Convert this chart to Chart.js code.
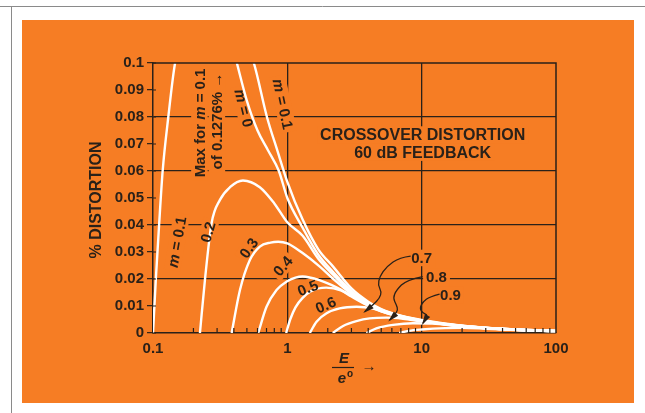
<!DOCTYPE html>
<html>
<head>
<meta charset="utf-8">
<script src="https://cdn.jsdelivr.net/npm/chart.js@4.4.1/dist/chart.umd.min.js"></script>
<style>
html, body { margin: 0; padding: 0; background: #fff; }
#wrap { width: 645px; height: 413px; }
</style>
</head>
<body>
<div id="wrap"><canvas id="chart" width="645" height="413"></canvas></div>
<script>
// 曲线数据 (x = E/e°, y = % distortion)
const m00X = [0.38, 0.421, 0.5, 0.6, 0.716, 0.865, 1.0, 1.3, 1.7, 2.2, 3, 4, 5, 7, 10, 20, 50, 100];
const m00Y = [0.1085, 0.1, 0.086, 0.075, 0.0678, 0.060, 0.050, 0.039, 0.029, 0.0225, 0.0155, 0.0112, 0.0087, 0.0063, 0.0047, 0.0027, 0.0013, 0.0008];

const m01X = [0.1, 0.105, 0.111, 0.118, 0.13, 0.146, 0.2, 0.28, 0.4, 0.563, 0.705, 0.85, 1.0, 1.3, 1.7, 2.2, 3, 4, 5, 7, 10, 20, 50, 100];
const m01Y = [0, 0.02, 0.04, 0.06, 0.08, 0.1, 0.121, 0.1276, 0.118, 0.1, 0.08, 0.067, 0.056, 0.042, 0.031, 0.0245, 0.0165, 0.0116, 0.0089, 0.0064, 0.0048, 0.0027, 0.0013, 0.0008];

const m02X = [0.2236, 0.2435, 0.273, 0.315, 0.374, 0.467, 0.624, 0.8, 1.0, 1.3, 1.7, 2.2, 3, 4, 5, 7, 10, 20, 50, 100];
const m02Y = [0, 0.0196, 0.0407, 0.0493, 0.054, 0.0565, 0.054, 0.048, 0.041, 0.036, 0.0275, 0.0215, 0.0150, 0.0109, 0.0085, 0.0062, 0.0046, 0.0026, 0.0013, 0.0008];

const m03X = [0.385, 0.444, 0.526, 0.624, 0.75, 0.855, 1.0, 1.3, 1.745, 2.2, 3, 4, 5, 7, 10, 20, 50, 100];
const m03Y = [0, 0.0159, 0.027, 0.032, 0.0335, 0.0338, 0.0332, 0.0296, 0.0246, 0.020, 0.0145, 0.0107, 0.0084, 0.0061, 0.0046, 0.0026, 0.0013, 0.0008];

const m04X = [0.607, 0.70, 0.831, 0.99, 1.15, 1.3, 1.75, 2.3, 3, 4, 5, 7, 10, 20, 50, 100];
const m04Y = [0, 0.0097, 0.0159, 0.0191, 0.0205, 0.0209, 0.0195, 0.017, 0.0138, 0.0103, 0.0082, 0.006, 0.0045, 0.0026, 0.0012, 0.0007];

const m05X = [0.98, 1.05, 1.15, 1.3, 1.5, 1.95, 2.5, 3, 4, 5, 7, 10, 20, 50, 100];
const m05Y = [0, 0.005, 0.0095, 0.013, 0.0155, 0.0168, 0.0158, 0.0135, 0.0101, 0.008, 0.0059, 0.0045, 0.0025, 0.0012, 0.0007];

const m06X = [1.47, 1.65, 1.96, 2.45, 3.27, 4.35, 5.5, 7, 10, 20, 50, 100];
const m06Y = [0, 0.0042, 0.0073, 0.0091, 0.0097, 0.0090, 0.0074, 0.0059, 0.0044, 0.0025, 0.0012, 0.0007];

const m07X = [2.18, 2.6, 3.27, 4.1, 5.47, 7.26, 10, 20, 50, 100];
const m07Y = [0, 0.0026, 0.0044, 0.0054, 0.0057, 0.0053, 0.0043, 0.0025, 0.0012, 0.0007];

const m08X = [3.88, 4.6, 6.12, 8.6, 12, 20, 50, 100];
const m08Y = [0, 0.0017, 0.003, 0.0036, 0.0035, 0.0024, 0.0012, 0.0007];

const m09X = [6.8, 8, 10, 15, 20, 30, 50, 100];
const m09Y = [0, 0.0008, 0.0013, 0.0018, 0.0019, 0.0016, 0.0011, 0.0007];

// 刻度
const xMajorTicks = [0.1, 1, 10, 100];
const xTickLabels = ['0.1', '1', '10', '100'];
const xGridValues = [1, 10];
const yTickValues = [0, 0.01, 0.02, 0.03, 0.04, 0.05, 0.06, 0.07, 0.08, 0.09, 0.1];
const yTickLabels = ['0', '0.01', '0.02', '0.03', '0.04', '0.05', '0.06', '0.07', '0.08', '0.09', '0.1'];
const yGridValues = [0.02, 0.04, 0.06, 0.08];

// 引出线 (0.7 / 0.8 / 0.9)
const lead07X = [8.28, 6.86, 5.47, 4.87, 4.73, 5.02, 4.87, 4.35, 3.77];
const lead07Y = [0.0285, 0.0280, 0.0246, 0.0209, 0.0178, 0.0153, 0.0129, 0.0104, 0.0079];
const lead08X = [10.17, 7.69, 6.49, 6.12, 6.49, 6.66, 6.30, 5.78];
const lead08Y = [0.0209, 0.0196, 0.0159, 0.0130, 0.0104, 0.0085, 0.0067, 0.0048];
const lead09X = [13.6, 11.47, 10.22, 9.66, 10.22, 11.14, 10.22];
const lead09Y = [0.0144, 0.0134, 0.0116, 0.0091, 0.0073, 0.0067, 0.0036];

// 图中文字
const curveLabels = [
    { parts: [['m', 'bi'], [' = 0.1', 'b']], x: 0.1508, y: 0.0337, rot: -80 },
    { parts: [['0.2', 'b']], x: 0.2565, y: 0.0374, rot: -74 },
    { parts: [['0.3', 'b']], x: 0.517, y: 0.0315, rot: -55 },
    { parts: [['0.4', 'b']], x: 0.926, y: 0.0248, rot: -50 },
    { parts: [['0.5', 'b']], x: 1.42, y: 0.0167, rot: -22 },
    { parts: [['0.6', 'b']], x: 1.93, y: 0.0104, rot: -24 },
    { parts: [['0.7', 'b']], x: 10.0, y: 0.0278, rot: 0 },
    { parts: [['0.8', 'b']], x: 12.9, y: 0.0207, rot: 0 },
    { parts: [['0.9', 'b']], x: 16.4, y: 0.0141, rot: 0 },
    { parts: [['m', 'bi'], [' = 0', 'b']], x: 0.475, y: 0.0833, rot: 76 },
    { parts: [['m', 'bi'], [' = 0.1', 'b']], x: 0.926, y: 0.0848, rot: 78 },
    { parts: [['Max for ', 'b'], ['m', 'bi'], [' = 0.1', 'b']], x: 0.2216, y: 0.0778, rot: -90 },
    { parts: [['of 0.1276%', 'b'], [' \u2192', 'n']], x: 0.299, y: 0.0785, rot: -90 },
    { parts: [['CROSSOVER DISTORTION', 'b']], x: 10.17, y: 0.0733, rot: 0, size: 16 },
    { parts: [['60 dB FEEDBACK', 'b']], x: 10.17, y: 0.067, rot: 0, size: 16 }
];

const ORANGE = '#f67d24';
const INK = '#2a2119';
const FAMILY = '"Liberation Sans", Arial, sans-serif';

function fontFor(style, size) {
    if (style === 'bi') return 'italic bold ' + size + 'px ' + FAMILY;
    if (style === 'n') return size + 'px ' + FAMILY;
    return 'bold ' + size + 'px ' + FAMILY;
}

function drawLabel(ctx, lab, px, py, bgOnly) {
    const size = lab.size || 15;
    ctx.save();
    ctx.translate(px, py);
    ctx.rotate(lab.rot * Math.PI / 180);
    const widths = lab.parts.map(p => { ctx.font = fontFor(p[1], size); return ctx.measureText(p[0]).width; });
    const total = widths.reduce((a, b) => a + b, 0);
    if (bgOnly) {
        ctx.fillStyle = ORANGE;
        ctx.fillRect(-total / 2 - 3, -size * 0.55, total + 6, size * 1.1);
    } else {
        ctx.fillStyle = INK;
        ctx.textBaseline = 'middle';
        ctx.textAlign = 'left';
        let cx = -total / 2;
        lab.parts.forEach((p, i) => {
            ctx.font = fontFor(p[1], size);
            ctx.fillText(p[0], cx, 1);
            cx += widths[i];
        });
    }
    ctx.restore();
}

function near(a, b) { return Math.abs(a - b) < 1e-9 * Math.max(1, Math.abs(b)); }

const decorPlugin = {
    id: 'decor',
    beforeDraw(chart) {
        const ctx = chart.ctx;
        ctx.save();
        ctx.fillStyle = '#ffffff';
        ctx.fillRect(0, 0, chart.width, chart.height);
        ctx.strokeStyle = '#8a8a8a';
        ctx.lineWidth = 1;
        ctx.beginPath();
        ctx.moveTo(0, 6.5); ctx.lineTo(chart.width, 6.5);
        ctx.moveTo(11.5, 6.5); ctx.lineTo(11.5, chart.height);
        ctx.stroke();
        ctx.fillStyle = ORANGE;
        ctx.fillRect(22, 20, 612, 383);
        ctx.restore();
    },
    beforeDatasetsDraw(chart) {
        const ctx = chart.ctx;
        const xs = chart.scales.x, ys = chart.scales.y;
        curveLabels.forEach(lab => drawLabel(ctx, lab, xs.getPixelForValue(lab.x), ys.getPixelForValue(lab.y), true));
    },
    afterDraw(chart) {
        const ctx = chart.ctx;
        const ca = chart.chartArea;
        const xs = chart.scales.x, ys = chart.scales.y;
        ctx.save();
        ctx.strokeStyle = INK;
        // 外框 (上、右)
        ctx.lineWidth = 1.5;
        ctx.beginPath();
        ctx.moveTo(ca.left, ca.top); ctx.lineTo(ca.right, ca.top); ctx.lineTo(ca.right, ca.bottom);
        ctx.stroke();
        // 内侧刻度
        ctx.lineWidth = 1.2;
        ctx.beginPath();
        yTickValues.forEach(v => {
            const py = ys.getPixelForValue(v);
            ctx.moveTo(ca.left, py); ctx.lineTo(ca.left + 3, py);
        });
        xs.ticks.forEach(t => {
            if (xMajorTicks.some(m => near(m, t.value))) return;
            const px = xs.getPixelForValue(t.value);
            ctx.moveTo(px, ca.bottom); ctx.lineTo(px, ca.bottom - 5);
        });
        ctx.stroke();

        // 引出线与箭头
        [[lead07X, lead07Y], [lead08X, lead08Y], [lead09X, lead09Y]].forEach(([lx, ly]) => {
            const pts = lx.map((v, i) => ({ x: xs.getPixelForValue(v), y: ys.getPixelForValue(ly[i]) }));
            ctx.lineWidth = 1.3;
            ctx.beginPath();
            ctx.moveTo(pts[0].x, pts[0].y);
            for (let i = 1; i < pts.length - 1; i++) {
                const mx = (pts[i].x + pts[i + 1].x) / 2, my = (pts[i].y + pts[i + 1].y) / 2;
                ctx.quadraticCurveTo(pts[i].x, pts[i].y, mx, my);
            }
            const tip = pts[pts.length - 1], prev = pts[pts.length - 2];
            ctx.lineTo(tip.x, tip.y);
            ctx.stroke();
            const ang = Math.atan2(tip.y - prev.y, tip.x - prev.x);
            ctx.fillStyle = INK;
            ctx.beginPath();
            ctx.moveTo(tip.x + Math.cos(ang) * 2, tip.y + Math.sin(ang) * 2);
            ctx.lineTo(tip.x - Math.cos(ang) * 9 + Math.sin(ang) * 3, tip.y - Math.sin(ang) * 9 - Math.cos(ang) * 3);
            ctx.lineTo(tip.x - Math.cos(ang) * 9 - Math.sin(ang) * 3, tip.y - Math.sin(ang) * 9 + Math.cos(ang) * 3);
            ctx.closePath();
            ctx.fill();
        });
        ctx.restore();

        // 曲线标注
        curveLabels.forEach(lab => drawLabel(ctx, lab, xs.getPixelForValue(lab.x), ys.getPixelForValue(lab.y), false));

        // 坐标轴标题
        ctx.save();
        ctx.fillStyle = INK;
        ctx.textBaseline = 'middle';
        ctx.textAlign = 'center';
        ctx.translate(ca.left - 56, (ca.top + ca.bottom) / 2 + 2);
        ctx.rotate(-Math.PI / 2);
        ctx.font = fontFor('b', 16);
        ctx.fillText('% DISTORTION', 0, 0);
        ctx.restore();

        ctx.save();
        ctx.fillStyle = INK;
        ctx.strokeStyle = INK;
        ctx.textBaseline = 'middle';
        ctx.textAlign = 'center';
        const tx = ca.left + 191;
        ctx.font = fontFor('bi', 15);
        ctx.fillText('E', tx, ca.bottom + 26);
        ctx.lineWidth = 1.2;
        ctx.beginPath();
        ctx.moveTo(tx - 12, ca.bottom + 34.5); ctx.lineTo(tx + 10, ca.bottom + 34.5);
        ctx.stroke();
        ctx.fillText('e', tx - 2, ca.bottom + 46);
        ctx.font = fontFor('b', 10);
        ctx.fillText('o', tx + 6, ca.bottom + 41);
        ctx.font = fontFor('n', 15);
        ctx.fillText('\u2192', tx + 25, ca.bottom + 34);
        ctx.restore();
    }
};

const seriesList = [
    [m00X, m00Y], [m01X, m01Y], [m02X, m02Y], [m03X, m03Y], [m04X, m04Y],
    [m05X, m05Y], [m06X, m06Y], [m07X, m07Y], [m08X, m08Y], [m09X, m09Y]
];
const seriesNames = ['m = 0', 'm = 0.1', '0.2', '0.3', '0.4', '0.5', '0.6', '0.7', '0.8', '0.9'];

const datasets = seriesList.map((s, k) => ({
    label: seriesNames[k],
    data: s[0].map((v, i) => ({ x: v, y: s[1][i] })),
    borderColor: '#ffffff',
    borderWidth: 2.4,
    pointRadius: 0,
    fill: false,
    cubicInterpolationMode: 'monotone'
}));

Chart.defaults.font.family = FAMILY;

new Chart(document.getElementById('chart').getContext('2d'), {
    type: 'line',
    data: { datasets: datasets },
    plugins: [decorPlugin],
    options: {
        responsive: false,
        animation: false,
        layout: { padding: { left: 0, top: 63, right: 89, bottom: 0 } },
        plugins: { legend: { display: false }, tooltip: { enabled: false } },
        scales: {
            x: {
                type: 'logarithmic',
                min: 0.1,
                max: 100,
                afterBuildTicks: (scale) => {
                    const vals = [];
                    [0.1, 1, 10].forEach(d => { for (let k = 1; k <= 9; k++) vals.push(+(d * k).toPrecision(6)); });
                    vals.push(100);
                    scale.ticks = vals.map(v => ({ value: v }));
                },
                afterFit: (scale) => { scale.height = 80; },
                grid: {
                    color: (c) => (c.tick && xGridValues.some(g => near(g, c.tick.value))) ? INK : 'transparent',
                    lineWidth: 1.3,
                    drawTicks: false
                },
                border: { color: INK, width: 1.5 },
                ticks: {
                    autoSkip: false,
                    maxRotation: 0,
                    padding: 7,
                    color: INK,
                    font: { size: 15, weight: 'bold' },
                    callback: (value) => {
                        const i = xMajorTicks.findIndex(m => near(m, value));
                        return i >= 0 ? xTickLabels[i] : '';
                    }
                }
            },
            y: {
                type: 'linear',
                min: 0,
                max: 0.1,
                afterBuildTicks: (scale) => { scale.ticks = yTickValues.map(v => ({ value: v })); },
                afterFit: (scale) => { scale.width = 153; },
                grid: {
                    color: (c) => (c.tick && yGridValues.some(g => near(g, c.tick.value))) ? INK : 'transparent',
                    lineWidth: 1.3,
                    tickColor: INK,
                    tickLength: 6,
                    tickWidth: 1.2
                },
                border: { color: INK, width: 1.5 },
                ticks: {
                    padding: 3,
                    color: INK,
                    font: { size: 15, weight: 'bold' },
                    callback: (value, index) => yTickLabels[index]
                }
            }
        }
    }
});
</script>
</body>
</html>
